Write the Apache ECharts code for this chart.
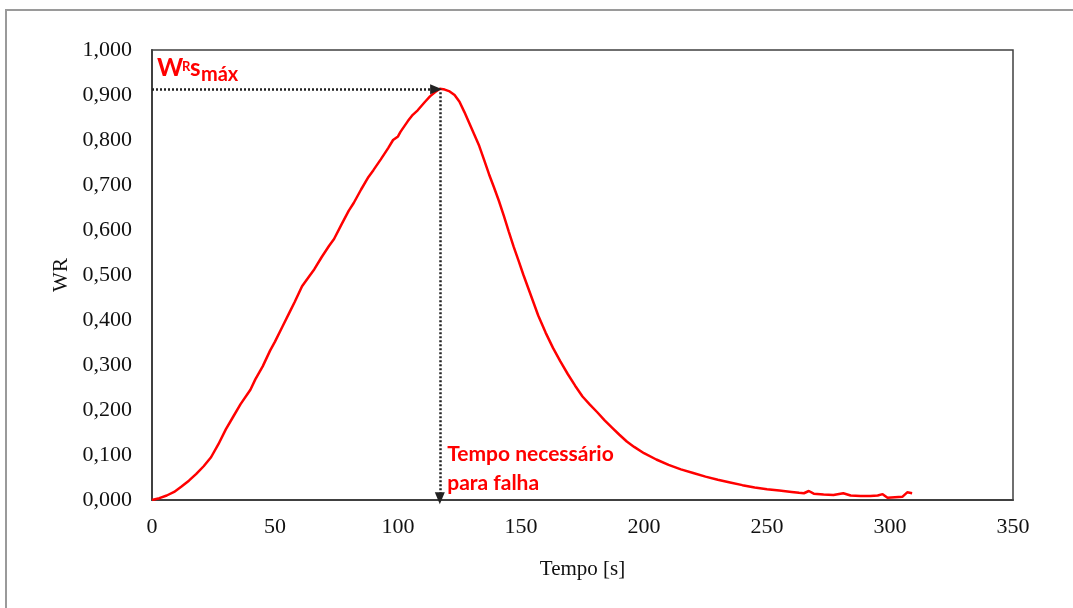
<!DOCTYPE html>
<html><head><meta charset="utf-8">
<script src="https://cdn.jsdelivr.net/npm/echarts@6/dist/echarts.min.js"></script>
<style>html,body{margin:0;padding:0;background:#fff}#c{width:1073px;height:608px}</style>
</head><body><div id="c"></div>
<script>
const tempo = [0,3,6,9,12,15,18,21,24,27,30,33,36,40,42,45,48,50,53,56,58,61,64,66,69,72,74,77,80,82,85,88,90,93,96,98,100,101,104,106,108,111,113,115,117,119,121,123,125,127,129,131,133,135,137,139,141,143,145,147,149,151,153,155,157,160,163,166,169,172,175,178,181,184,187,190,193,196,200,205,210,215,220,225,230,235,240,245,250,255,260,263,265,267,269,273,277,281,284,288,292,295,297,299,302,305,307,309];
const wr = [0.000,0.004,0.010,0.018,0.030,0.043,0.058,0.075,0.095,0.124,0.157,0.185,0.213,0.245,0.268,0.297,0.332,0.352,0.385,0.418,0.440,0.475,0.498,0.513,0.540,0.565,0.580,0.612,0.643,0.660,0.690,0.718,0.733,0.757,0.782,0.800,0.808,0.818,0.842,0.856,0.866,0.885,0.897,0.906,0.914,0.912,0.908,0.900,0.885,0.862,0.837,0.812,0.787,0.756,0.724,0.695,0.665,0.632,0.597,0.563,0.532,0.500,0.470,0.440,0.410,0.372,0.338,0.308,0.280,0.254,0.230,0.212,0.195,0.177,0.161,0.145,0.130,0.118,0.104,0.090,0.078,0.068,0.060,0.052,0.045,0.039,0.033,0.028,0.024,0.021,0.018,0.016,0.015,0.020,0.014,0.012,0.011,0.015,0.010,0.009,0.009,0.010,0.013,0.005,0.006,0.007,0.017,0.015];
const peak = [117, 0.913];
const xTicks = {min:0, max:350, interval:50};
const yTicks = {min:0, max:1, interval:0.1};
const yName = 'WR';
const xName = 'Tempo [s]';
const noteFalha = ['Tempo necessário', 'para falha'];

const chart = echarts.init(document.getElementById('c'));
const serif = '"Liberation Serif","Times New Roman",serif';
const sans = 'Lato, "Open Sans", sans-serif';
chart.setOption({
  animation:false,
  backgroundColor:'#fff',
  grid:{left:152, right:60, top:50, bottom:108, show:true, borderColor:'#404040', borderWidth:1.5, backgroundColor:'transparent'},
  xAxis:{type:'value', min:xTicks.min, max:xTicks.max, interval:xTicks.interval,
    name:xName, nameLocation:'middle', nameGap:59, nameTextStyle:{fontFamily:serif, fontSize:21, color:'#111'},
    axisLine:{show:true, onZero:false, lineStyle:{color:'#404040', width:2}}, axisTick:{show:false}, splitLine:{show:false},
    axisLabel:{fontFamily:serif, fontSize:22, color:'#111', margin:16}},
  yAxis:{type:'value', min:yTicks.min, max:yTicks.max, interval:yTicks.interval,
    name:yName, nameLocation:'middle', nameGap:80, nameTextStyle:{fontFamily:serif, fontSize:21, color:'#111'},
    axisLine:{show:true, lineStyle:{color:'#404040', width:2}}, axisTick:{show:false}, splitLine:{show:false},
    axisLabel:{fontFamily:serif, fontSize:22, color:'#111', margin:20, formatter:v=>v.toFixed(3).replace('.',',')}},
  series:[{type:'line', data:tempo.map((t,i)=>[t,wr[i]]), showSymbol:false, symbol:'none',
    lineStyle:{color:'#ff0000', width:2.5}, z:3,
    markLine:{silent:true, symbol:['none','triangle'], symbolSize:[10,12], label:{show:false},
      lineStyle:{color:'#222', type:[2,2], width:2.5},
      data:[
        [{coord:[0,peak[1]], symbol:'none'},{coord:[peak[0]-1.5,peak[1]], symbol:'triangle', symbolRotate:-90}],
        [{coord:[peak[0],peak[1]-0.007], symbol:'none'},{coord:[peak[0],0.004], symbol:'triangle', symbolRotate:180}]
      ]}}]
});

function place(){
  const base = chart.convertToPixel({gridIndex:0},[2,0.985]);
  const f = chart.convertToPixel({gridIndex:0},[120,0.103]);
  const red = '#ff0000';
  chart.setOption({graphic:[
    {type:'rect', shape:{x:6,y:10,width:1100,height:700}, style:{fill:'none', stroke:'#9a9a9a', lineWidth:2}, silent:true},
    {type:'text', x:base[0], y:base[1]+24, style:{text:'W', font:'bold 25px '+sans, fill:red, verticalAlign:'bottom'}},
    {type:'text', x:base[0]+25, y:base[1]+4, style:{text:'R', font:'bold 13px '+sans, fill:red, verticalAlign:'top'}},
    {type:'text', x:base[0]+33, y:base[1]+24, style:{text:'s', font:'bold 24px '+sans, fill:red, verticalAlign:'bottom'}},
    {type:'text', x:base[0]+44, y:base[1]+28, style:{text:'máx', font:'bold 20px '+sans, fill:red, verticalAlign:'bottom'}},
    {type:'text', x:f[0], y:f[1]+15, style:{text:noteFalha.join('\n'), font:'bold 21px '+sans, lineHeight:29, fill:red, verticalAlign:'middle'}}
  ]});
}
place();
</script></body></html>
